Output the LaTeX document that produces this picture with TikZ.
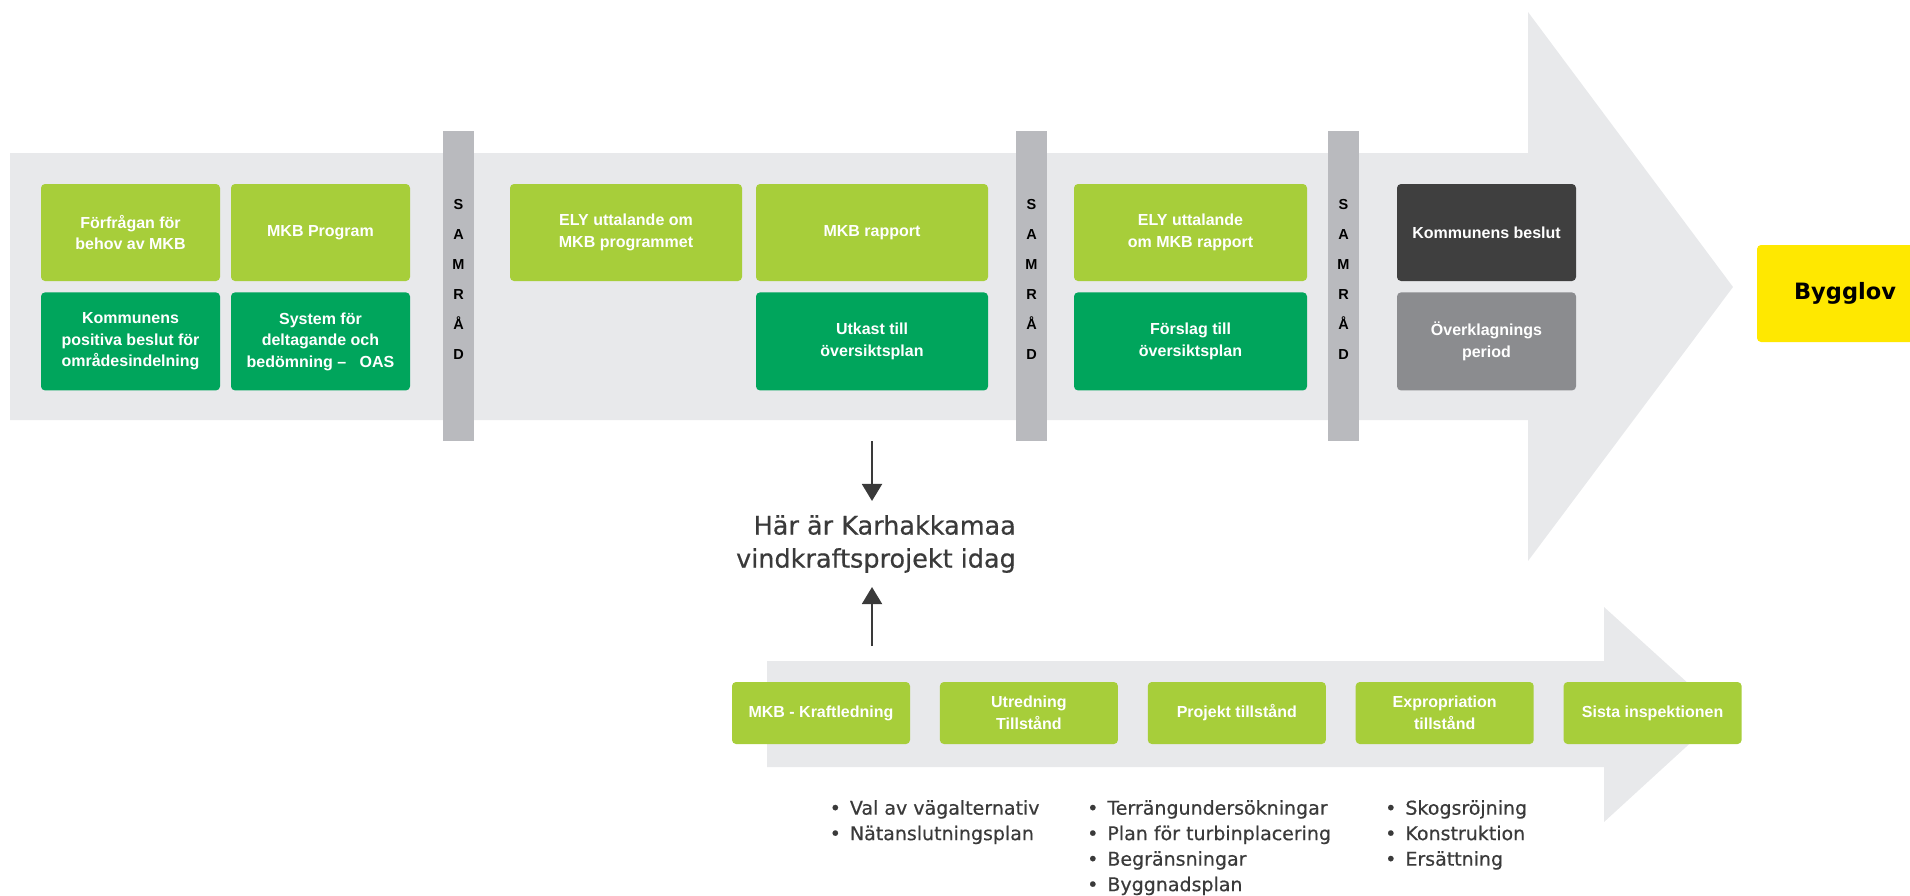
\documentclass[tikz,border=0pt]{standalone}
\usepackage{fontspec}
\setmainfont{Liberation Sans}
\newfontfamily\widefont{DejaVu Sans}
\newfontfamily\mediumfont[FakeBold=0.5]{DejaVu Sans}
\usepackage{tikz}
\usetikzlibrary{positioning, arrows.meta}
\definecolor{bandgrey}{HTML}{E8E9EB}
\definecolor{bargrey}{HTML}{B9BABE}
\definecolor{sprout}{HTML}{A7CE3A}
\definecolor{forest}{HTML}{00A55C}
\definecolor{charcoal}{HTML}{3F3F3F}
\definecolor{slate}{HTML}{8B8C8F}
\definecolor{signal}{HTML}{FFE800}
\definecolor{ink}{HTML}{3A3A3A}
\tikzstyle{box} = [rectangle, rounded corners=4pt, inner sep=0pt, align=center, text=white, font=\fontsize{16}{21.5}\selectfont\bfseries]
\tikzstyle{lightbox} = [box, fill=sprout, minimum height=97pt]
\tikzstyle{darkbox} = [box, fill=forest, minimum height=98pt]
\tikzstyle{decision} = [box, fill=charcoal, minimum height=97pt]
\tikzstyle{appeal} = [box, fill=slate, minimum height=98pt]
\tikzstyle{smallbox} = [box, fill=sprout, minimum width=178pt, minimum height=62pt]
\tikzstyle{permit} = [rectangle, rounded corners=4pt, fill=signal, minimum width=176pt, minimum height=97pt, font=\widefont\fontsize{22.5}{27}\selectfont\bfseries]
\tikzstyle{samrad} = [rectangle, fill=bargrey, minimum width=31pt, minimum height=310pt, inner sep=0pt]
\tikzstyle{samradtext} = [align=center, inner sep=0pt, font=\fontsize{14.5}{30}\selectfont\bfseries]
\tikzstyle{here} = [anchor=east, align=right, inner xsep=0pt, inner ysep=14pt, text=ink, font=\mediumfont\fontsize{25.5}{33}\selectfont]
\tikzstyle{bullets} = [anchor=north west, align=left, inner sep=0pt, text=ink, font=\mediumfont\fontsize{19}{25.5}\selectfont]
\tikzstyle{pointer} = [line width=2pt, draw=ink, -{Triangle[width=20pt,length=17pt]}]

\begin{document}
\begin{tikzpicture}[x=1pt, y=-1pt]
	\useasboundingbox (0,0) rectangle (1910,895);
	\fill[bandgrey] (10,153) -- (1528,153) -- (1528,12) -- (1733,287) -- (1528,561) -- (1528,420) -- (10,420) -- cycle;
	\fill[bandgrey] (767,661) -- (1604,661) -- (1604,607) -- (1722,714) -- (1604,822) -- (1604,767) -- (767,767) -- cycle;

	\node[lightbox, minimum width=179pt] (forfragan) at (130.5,232.5) {Förfrågan för\\behov av MKB};
	\node[lightbox, minimum width=179pt] (program) at (320.5,232.5) {MKB Program};
	\node[darkbox, minimum width=179pt, below=11pt of forfragan] (positiva) {Kommunens\\positiva beslut för\\områdesindelning};
	\node[darkbox, minimum width=179pt, below=11pt of program] (oas) {System för\\deltagande och\\bedömning –\ \ \ OAS};

	\node[lightbox, minimum width=232pt] (elyprogram) at (626,232.5) {ELY uttalande om\\MKB programmet};
	\node[lightbox, minimum width=232pt] (rapport) at (872,232.5) {MKB rapport};
	\node[darkbox, minimum width=232pt, below=11pt of rapport] (utkast) {Utkast till\\översiktsplan};

	\node[lightbox, minimum width=233pt] (elyrapport) at (1190.5,232.5) {ELY uttalande\\om MKB rapport};
	\node[darkbox, minimum width=233pt, below=11pt of elyrapport] (forslag) {Förslag till\\översiktsplan};

	\node[decision, minimum width=179pt] (beslut) at (1486.5,232.5) {Kommunens beslut};
	\node[appeal, minimum width=179pt, below=11pt of beslut] (period) {Överklagnings\\period};

	\node[permit] (bygglov) at (1845,293.5) {Bygglov};

	\node[samrad] (samrad1) at (458.5,286) {};
	\node[samrad] (samrad2) at (1031.5,286) {};
	\node[samrad] (samrad3) at (1343.5,286) {};
	\node[samradtext] at ([yshift=7pt]samrad1.center) {S\\A\\M\\R\\Å\\D};
	\node[samradtext] at ([yshift=7pt]samrad2.center) {S\\A\\M\\R\\Å\\D};
	\node[samradtext] at ([yshift=7pt]samrad3.center) {S\\A\\M\\R\\Å\\D};

	\node[here] (here) at (1016,544) {Här är Karhakkamaa\\vindkraftsprojekt idag};
	\coordinate (abovehere) at (872,441);
	\coordinate (belowhere) at (872,646);
	\draw[pointer] (abovehere) -- (abovehere |- here.north);
	\draw[pointer] (belowhere) -- (belowhere |- here.south);

	\node[smallbox] (kraftledning) at (821,713) {MKB - Kraftledning};
	\node[smallbox, right=29.5pt of kraftledning] (utredning) {Utredning\\Tillstånd};
	\node[smallbox, right=29.5pt of utredning] (projekt) {Projekt tillstånd};
	\node[smallbox, right=29.5pt of projekt] (expropriation) {Expropriation\\tillstånd};
	\node[smallbox, right=29.5pt of expropriation] (inspektion) {Sista inspektionen};

	\node[bullets] (vagar) at (829.5,800) {•\hspace{9pt}Val av vägalternativ\\•\hspace{9pt}Nätanslutningsplan};
	\node[bullets] (terrang) at (1087,800) {•\hspace{9pt}Terrängundersökningar\\•\hspace{9pt}Plan för turbinplacering\\•\hspace{9pt}Begränsningar\\•\hspace{9pt}Byggnadsplan};
	\node[bullets] (skog) at (1385,800) {•\hspace{9pt}Skogsröjning\\•\hspace{9pt}Konstruktion\\•\hspace{9pt}Ersättning};
\end{tikzpicture}
\end{document}
